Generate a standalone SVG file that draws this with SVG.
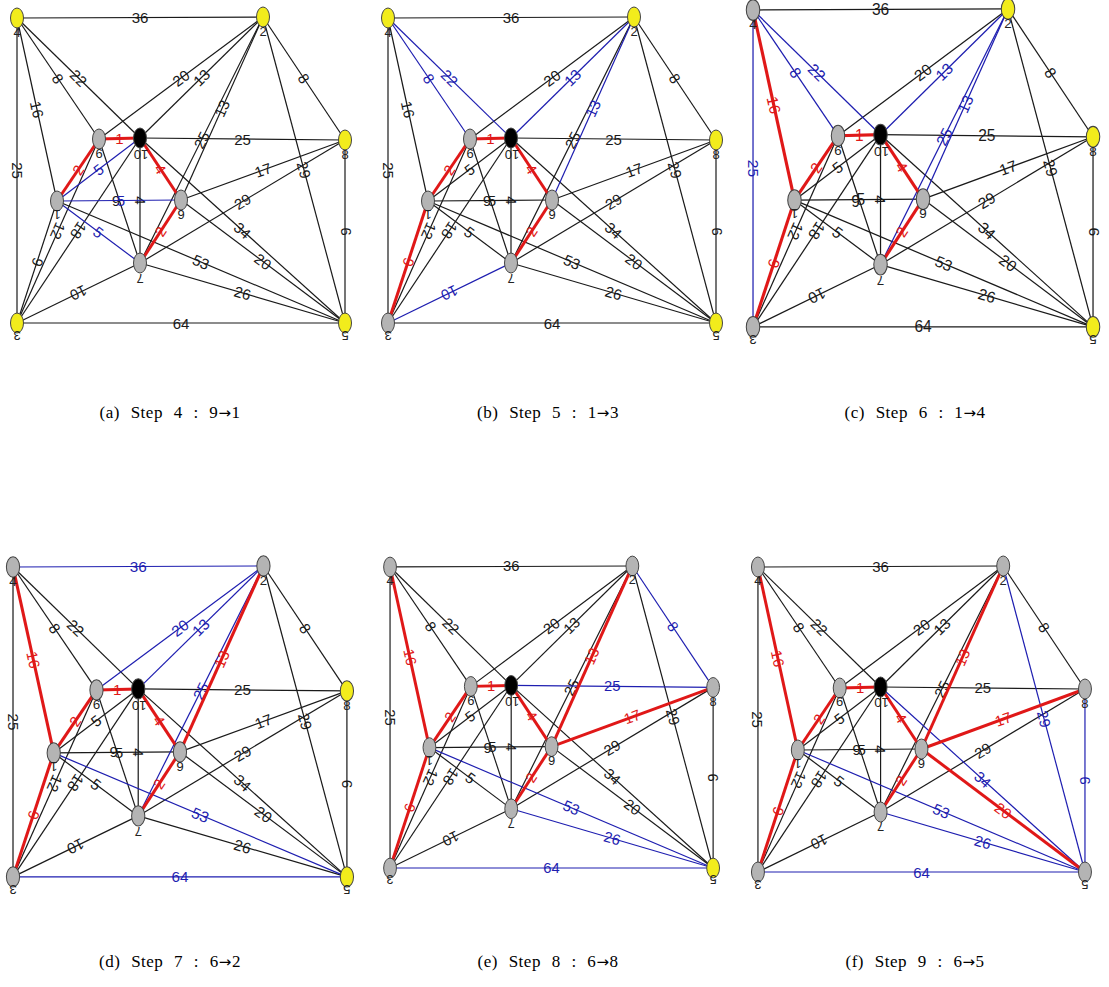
<svg xmlns="http://www.w3.org/2000/svg" xmlns:xlink="http://www.w3.org/1999/xlink" width="1109" height="987" viewBox="0 0 1109 987">
<style>
.k{stroke:#1a1a1a;fill:#1a1a1a;stroke-width:1.2}
.b{stroke:#1e1eb0;fill:#1e1eb0;stroke-width:1.2}
.r{stroke:#e01818;fill:#e01818;stroke-width:3}
.lb{stroke:none;font-family:"Liberation Sans",Arial,sans-serif;font-size:15px;text-anchor:middle;dominant-baseline:central}
.nd ellipse{stroke:#444;stroke-width:1}
.y{fill:#f2ec1c}.g{fill:#b4b4b4}.bk{fill:#000}
.nl{font-family:"Liberation Sans",Arial,sans-serif;font-size:13px;fill:#222;text-anchor:middle;dominant-baseline:central}
.cap{font-family:"Liberation Serif","DejaVu Serif",serif;font-size:17px;fill:#000;text-anchor:middle;letter-spacing:0.5px;word-spacing:6px}
.ar{font-family:"DejaVu Sans",sans-serif;font-size:15px}
</style>
<defs>
<g id="e1"><line x1="17" y1="18" x2="263" y2="17"/><text class="lb" x="140" y="17.5">36</text></g>
<g id="e2"><line x1="17" y1="18" x2="17" y2="323"/><text class="lb" x="17" y="170.5" transform="rotate(90 17 170.5)">25</text></g>
<g id="e3"><line x1="17" y1="323" x2="345" y2="323"/><text class="lb" x="181" y="323">64</text></g>
<g id="e4"><line x1="345" y1="140" x2="345" y2="323"/><text class="lb" x="345" y="231.5" transform="rotate(-90 345 231.5)">9</text></g>
<g id="e5"><line x1="263" y1="17" x2="345" y2="140"/><text class="lb" x="304" y="78.5" transform="rotate(56.3 304 78.5)">8</text></g>
<g id="e6"><line x1="17" y1="18" x2="57" y2="201"/><text class="lb" x="37" y="109.5" transform="rotate(77.7 37 109.5)">16</text></g>
<g id="e7"><line x1="17" y1="18" x2="99" y2="139"/><text class="lb" x="58" y="78.5" transform="rotate(55.9 58 78.5)">8</text></g>
<g id="e8"><line x1="17" y1="18" x2="140" y2="138"/><text class="lb" x="78.5" y="78" transform="rotate(44.3 78.5 78)">22</text></g>
<g id="e9"><line x1="263" y1="17" x2="99" y2="139"/><text class="lb" x="181" y="78" transform="rotate(-36.6 181 78)">20</text></g>
<g id="e10"><line x1="263" y1="17" x2="140" y2="138"/><text class="lb" x="201.5" y="77.5" transform="rotate(-44.5 201.5 77.5)">13</text></g>
<g id="e11"><line x1="263" y1="17" x2="181" y2="200"/><text class="lb" x="222" y="108.5" transform="rotate(-65.9 222 108.5)">13</text></g>
<g id="e12"><line x1="263" y1="17" x2="140" y2="263"/><text class="lb" x="201.5" y="140" transform="rotate(-63.4 201.5 140)">25</text></g>
<g id="e13"><line x1="263" y1="17" x2="345" y2="323"/><text class="lb" x="304" y="170" transform="rotate(75 304 170)">29</text></g>
<g id="e14"><line x1="140" y1="138" x2="345" y2="140"/><text class="lb" x="242.5" y="139">25</text></g>
<g id="e15"><line x1="140" y1="138" x2="99" y2="139"/><text class="lb" x="119.5" y="138.5">1</text></g>
<g id="e16"><line x1="140" y1="138" x2="181" y2="200"/><text class="lb" x="160.5" y="169" transform="rotate(56.5 160.5 169)">4</text></g>
<g id="e17"><line x1="140" y1="138" x2="140" y2="263"/><text class="lb" x="140" y="200.5" transform="rotate(90 140 200.5)">4</text></g>
<g id="e18"><line x1="140" y1="138" x2="345" y2="323"/><text class="lb" x="242.5" y="230.5" transform="rotate(42.1 242.5 230.5)">34</text></g>
<g id="e19"><line x1="140" y1="138" x2="17" y2="323"/><text class="lb" x="78.5" y="230.5" transform="rotate(123.6 78.5 230.5)">18</text></g>
<g id="e20"><line x1="99" y1="139" x2="17" y2="323"/><text class="lb" x="58" y="231" transform="rotate(114 58 231)">12</text></g>
<g id="e21"><line x1="57" y1="201" x2="17" y2="323"/><text class="lb" x="37" y="262" transform="rotate(-71.8 37 262)">6</text></g>
<g id="e22"><line x1="57" y1="201" x2="99" y2="139"/><text class="lb" x="78" y="170" transform="rotate(-55.9 78 170)">2</text></g>
<g id="e23"><line x1="57" y1="201" x2="140" y2="138"/><text class="lb" x="98.5" y="169.5" transform="rotate(-37.2 98.5 169.5)">5</text></g>
<g id="e24"><line x1="57" y1="201" x2="181" y2="200"/><text class="lb" x="121" y="200.5">5</text></g>
<g id="e25"><line x1="57" y1="201" x2="140" y2="263"/><text class="lb" x="98.5" y="232" transform="rotate(36.8 98.5 232)">5</text></g>
<g id="e26"><line x1="57" y1="201" x2="345" y2="323"/><text class="lb" x="201" y="262" transform="rotate(23 201 262)">53</text></g>
<g id="e27"><line x1="99" y1="139" x2="140" y2="263"/><text class="lb" x="116" y="201" transform="rotate(180 116 201)">6</text></g>
<g id="e28"><line x1="181" y1="200" x2="140" y2="263"/><text class="lb" x="160.5" y="231.5" transform="rotate(-56.9 160.5 231.5)">2</text></g>
<g id="e29"><line x1="181" y1="200" x2="345" y2="323"/><text class="lb" x="263" y="261.5" transform="rotate(36.9 263 261.5)">20</text></g>
<g id="e30"><line x1="181" y1="200" x2="345" y2="140"/><text class="lb" x="263" y="170" transform="rotate(-20.1 263 170)">17</text></g>
<g id="e31"><line x1="140" y1="263" x2="345" y2="140"/><text class="lb" x="242.5" y="201.5" transform="rotate(-31 242.5 201.5)">29</text></g>
<g id="e32"><line x1="140" y1="263" x2="345" y2="323"/><text class="lb" x="242.5" y="293" transform="rotate(16.3 242.5 293)">26</text></g>
<g id="e33"><line x1="140" y1="263" x2="17" y2="323"/><text class="lb" x="78.5" y="293" transform="rotate(154 78.5 293)">10</text></g>
</defs>
<rect x="0" y="0" width="1109" height="987" fill="#fff"/>

<g id="panel-a">
<g id="a-edges">
<use href="#e1" class="k"/><use href="#e2" class="k"/><use href="#e3" class="k"/><use href="#e4" class="k"/><use href="#e5" class="k"/><use href="#e6" class="k"/><use href="#e7" class="k"/><use href="#e8" class="k"/><use href="#e9" class="k"/><use href="#e10" class="k"/><use href="#e11" class="k"/><use href="#e12" class="k"/><use href="#e13" class="k"/><use href="#e14" class="k"/><use href="#e17" class="k"/><use href="#e18" class="k"/><use href="#e19" class="k"/><use href="#e20" class="k"/><use href="#e21" class="k"/><use href="#e26" class="k"/><use href="#e27" class="k"/><use href="#e29" class="k"/><use href="#e30" class="k"/><use href="#e31" class="k"/><use href="#e32" class="k"/><use href="#e33" class="k"/>
<use href="#e23" class="b"/><use href="#e24" class="b"/><use href="#e25" class="b"/>
<use href="#e15" class="r"/><use href="#e22" class="r"/><use href="#e16" class="r"/><use href="#e28" class="r"/>
</g>
<g id="a-n4" class="nd"><ellipse cx="17" cy="18" rx="6.5" ry="10" class="y"/><text class="nl" x="17" y="32">4</text></g>
<g id="a-n2" class="nd"><ellipse cx="263" cy="17" rx="6.5" ry="10" class="y"/><text class="nl" x="263" y="31">2</text></g>
<g id="a-n8" class="nd"><ellipse cx="345" cy="140" rx="6.5" ry="10" class="y"/><text class="nl" x="345" y="154">8</text></g>
<g id="a-n5" class="nd"><ellipse cx="345" cy="323" rx="6.5" ry="10" class="y"/><text class="nl" x="345" y="335" transform="rotate(180 345 335)">5</text></g>
<g id="a-n3" class="nd"><ellipse cx="17" cy="323" rx="6.5" ry="10" class="y"/><text class="nl" x="17" y="335" transform="rotate(180 17 335)">3</text></g>
<g id="a-n9" class="nd"><ellipse cx="99" cy="139" rx="6.5" ry="10" class="g"/><text class="nl" x="99" y="153" transform="rotate(180 99 153)">9</text></g>
<g id="a-n10" class="nd"><ellipse cx="140" cy="138" rx="6.5" ry="10" class="bk"/><text class="nl" x="141" y="154" transform="rotate(180 141 154)">10</text></g>
<g id="a-n1" class="nd"><ellipse cx="57" cy="201" rx="6.5" ry="10" class="g"/><text class="nl" x="57" y="214" transform="rotate(180 57 214)">1</text></g>
<g id="a-n6" class="nd"><ellipse cx="181" cy="200" rx="6.5" ry="10" class="g"/><text class="nl" x="181" y="214" transform="rotate(180 181 214)">6</text></g>
<g id="a-n7" class="nd"><ellipse cx="140" cy="263" rx="6.5" ry="10" class="g"/><text class="nl" x="140" y="278" transform="rotate(180 140 278)">7</text></g>
</g>

<g id="panel-b" transform="translate(371 0)">
<g id="b-edges">
<use href="#e1" class="k"/><use href="#e2" class="k"/><use href="#e3" class="k"/><use href="#e4" class="k"/><use href="#e5" class="k"/><use href="#e6" class="k"/><use href="#e9" class="k"/><use href="#e12" class="k"/><use href="#e13" class="k"/><use href="#e14" class="k"/><use href="#e17" class="k"/><use href="#e18" class="k"/><use href="#e19" class="k"/><use href="#e20" class="k"/><use href="#e23" class="k"/><use href="#e24" class="k"/><use href="#e25" class="k"/><use href="#e26" class="k"/><use href="#e27" class="k"/><use href="#e29" class="k"/><use href="#e30" class="k"/><use href="#e31" class="k"/><use href="#e32" class="k"/>
<use href="#e7" class="b"/><use href="#e8" class="b"/><use href="#e10" class="b"/><use href="#e11" class="b"/><use href="#e33" class="b"/>
<use href="#e15" class="r"/><use href="#e22" class="r"/><use href="#e16" class="r"/><use href="#e28" class="r"/><use href="#e21" class="r"/>
</g>
<g id="b-n4" class="nd"><ellipse cx="17" cy="18" rx="6.5" ry="10" class="y"/><text class="nl" x="17" y="32">4</text></g>
<g id="b-n2" class="nd"><ellipse cx="263" cy="17" rx="6.5" ry="10" class="y"/><text class="nl" x="263" y="31">2</text></g>
<g id="b-n8" class="nd"><ellipse cx="345" cy="140" rx="6.5" ry="10" class="y"/><text class="nl" x="345" y="154">8</text></g>
<g id="b-n5" class="nd"><ellipse cx="345" cy="323" rx="6.5" ry="10" class="y"/><text class="nl" x="345" y="335" transform="rotate(180 345 335)">5</text></g>
<g id="b-n3" class="nd"><ellipse cx="17" cy="323" rx="6.5" ry="10" class="g"/><text class="nl" x="17" y="335" transform="rotate(180 17 335)">3</text></g>
<g id="b-n9" class="nd"><ellipse cx="99" cy="139" rx="6.5" ry="10" class="g"/><text class="nl" x="99" y="153" transform="rotate(180 99 153)">9</text></g>
<g id="b-n10" class="nd"><ellipse cx="140" cy="138" rx="6.5" ry="10" class="bk"/><text class="nl" x="141" y="154" transform="rotate(180 141 154)">10</text></g>
<g id="b-n1" class="nd"><ellipse cx="57" cy="201" rx="6.5" ry="10" class="g"/><text class="nl" x="57" y="214" transform="rotate(180 57 214)">1</text></g>
<g id="b-n6" class="nd"><ellipse cx="181" cy="200" rx="6.5" ry="10" class="g"/><text class="nl" x="181" y="214" transform="rotate(180 181 214)">6</text></g>
<g id="b-n7" class="nd"><ellipse cx="140" cy="263" rx="6.5" ry="10" class="g"/><text class="nl" x="140" y="278" transform="rotate(180 140 278)">7</text></g>
</g>

<g id="panel-c" transform="matrix(1.0366 0 0 1.039 735.4 -8.7)">
<g id="c-edges">
<use href="#e1" class="k"/><use href="#e3" class="k"/><use href="#e4" class="k"/><use href="#e5" class="k"/><use href="#e9" class="k"/><use href="#e13" class="k"/><use href="#e14" class="k"/><use href="#e17" class="k"/><use href="#e18" class="k"/><use href="#e19" class="k"/><use href="#e20" class="k"/><use href="#e23" class="k"/><use href="#e24" class="k"/><use href="#e25" class="k"/><use href="#e26" class="k"/><use href="#e27" class="k"/><use href="#e29" class="k"/><use href="#e30" class="k"/><use href="#e31" class="k"/><use href="#e32" class="k"/><use href="#e33" class="k"/>
<use href="#e2" class="b"/><use href="#e7" class="b"/><use href="#e8" class="b"/><use href="#e10" class="b"/><use href="#e11" class="b"/><use href="#e12" class="b"/>
<use href="#e15" class="r"/><use href="#e22" class="r"/><use href="#e16" class="r"/><use href="#e28" class="r"/><use href="#e21" class="r"/><use href="#e6" class="r"/>
</g>
<g id="c-n4" class="nd"><ellipse cx="17" cy="18" rx="6.5" ry="10" class="g"/><text class="nl" x="17" y="32">4</text></g>
<g id="c-n2" class="nd"><ellipse cx="263" cy="17" rx="6.5" ry="10" class="y"/><text class="nl" x="263" y="31">2</text></g>
<g id="c-n8" class="nd"><ellipse cx="345" cy="140" rx="6.5" ry="10" class="y"/><text class="nl" x="345" y="154">8</text></g>
<g id="c-n5" class="nd"><ellipse cx="345" cy="323" rx="6.5" ry="10" class="y"/><text class="nl" x="345" y="335" transform="rotate(180 345 335)">5</text></g>
<g id="c-n3" class="nd"><ellipse cx="17" cy="323" rx="6.5" ry="10" class="g"/><text class="nl" x="17" y="335" transform="rotate(180 17 335)">3</text></g>
<g id="c-n9" class="nd"><ellipse cx="99" cy="139" rx="6.5" ry="10" class="g"/><text class="nl" x="99" y="153" transform="rotate(180 99 153)">9</text></g>
<g id="c-n10" class="nd"><ellipse cx="140" cy="138" rx="6.5" ry="10" class="bk"/><text class="nl" x="141" y="154" transform="rotate(180 141 154)">10</text></g>
<g id="c-n1" class="nd"><ellipse cx="57" cy="201" rx="6.5" ry="10" class="g"/><text class="nl" x="57" y="214" transform="rotate(180 57 214)">1</text></g>
<g id="c-n6" class="nd"><ellipse cx="181" cy="200" rx="6.5" ry="10" class="g"/><text class="nl" x="181" y="214" transform="rotate(180 181 214)">6</text></g>
<g id="c-n7" class="nd"><ellipse cx="140" cy="263" rx="6.5" ry="10" class="g"/><text class="nl" x="140" y="278" transform="rotate(180 140 278)">7</text></g>
</g>

<g id="panel-d" transform="matrix(1.018 0 0 1.016 -4.3 548.7)">
<g id="d-edges">
<use href="#e2" class="k"/><use href="#e4" class="k"/><use href="#e5" class="k"/><use href="#e7" class="k"/><use href="#e8" class="k"/><use href="#e13" class="k"/><use href="#e14" class="k"/><use href="#e17" class="k"/><use href="#e18" class="k"/><use href="#e19" class="k"/><use href="#e20" class="k"/><use href="#e23" class="k"/><use href="#e24" class="k"/><use href="#e25" class="k"/><use href="#e27" class="k"/><use href="#e29" class="k"/><use href="#e30" class="k"/><use href="#e31" class="k"/><use href="#e32" class="k"/><use href="#e33" class="k"/>
<use href="#e1" class="b"/><use href="#e9" class="b"/><use href="#e10" class="b"/><use href="#e12" class="b"/><use href="#e26" class="b"/><use href="#e3" class="b"/>
<use href="#e15" class="r"/><use href="#e22" class="r"/><use href="#e16" class="r"/><use href="#e28" class="r"/><use href="#e21" class="r"/><use href="#e6" class="r"/><use href="#e11" class="r"/>
</g>
<g id="d-n4" class="nd"><ellipse cx="17" cy="18" rx="6.5" ry="10" class="g"/><text class="nl" x="17" y="32">4</text></g>
<g id="d-n2" class="nd"><ellipse cx="263" cy="17" rx="6.5" ry="10" class="g"/><text class="nl" x="263" y="31">2</text></g>
<g id="d-n8" class="nd"><ellipse cx="345" cy="140" rx="6.5" ry="10" class="y"/><text class="nl" x="345" y="154">8</text></g>
<g id="d-n5" class="nd"><ellipse cx="345" cy="323" rx="6.5" ry="10" class="y"/><text class="nl" x="345" y="335" transform="rotate(180 345 335)">5</text></g>
<g id="d-n3" class="nd"><ellipse cx="17" cy="323" rx="6.5" ry="10" class="g"/><text class="nl" x="17" y="335" transform="rotate(180 17 335)">3</text></g>
<g id="d-n9" class="nd"><ellipse cx="99" cy="139" rx="6.5" ry="10" class="g"/><text class="nl" x="99" y="153" transform="rotate(180 99 153)">9</text></g>
<g id="d-n10" class="nd"><ellipse cx="140" cy="138" rx="6.5" ry="10" class="bk"/><text class="nl" x="141" y="154" transform="rotate(180 141 154)">10</text></g>
<g id="d-n1" class="nd"><ellipse cx="57" cy="201" rx="6.5" ry="10" class="g"/><text class="nl" x="57" y="214" transform="rotate(180 57 214)">1</text></g>
<g id="d-n6" class="nd"><ellipse cx="181" cy="200" rx="6.5" ry="10" class="g"/><text class="nl" x="181" y="214" transform="rotate(180 181 214)">6</text></g>
<g id="d-n7" class="nd"><ellipse cx="140" cy="263" rx="6.5" ry="10" class="g"/><text class="nl" x="140" y="278" transform="rotate(180 140 278)">7</text></g>
</g>

<g id="panel-e" transform="matrix(0.985 0 0 0.987 373.3 549.2)">
<g id="e-edges">
<use href="#e1" class="k"/><use href="#e2" class="k"/><use href="#e4" class="k"/><use href="#e7" class="k"/><use href="#e8" class="k"/><use href="#e9" class="k"/><use href="#e10" class="k"/><use href="#e12" class="k"/><use href="#e13" class="k"/><use href="#e17" class="k"/><use href="#e18" class="k"/><use href="#e19" class="k"/><use href="#e20" class="k"/><use href="#e23" class="k"/><use href="#e24" class="k"/><use href="#e25" class="k"/><use href="#e27" class="k"/><use href="#e29" class="k"/><use href="#e31" class="k"/><use href="#e33" class="k"/>
<use href="#e5" class="b"/><use href="#e14" class="b"/><use href="#e26" class="b"/><use href="#e32" class="b"/><use href="#e3" class="b"/>
<use href="#e15" class="r"/><use href="#e22" class="r"/><use href="#e16" class="r"/><use href="#e28" class="r"/><use href="#e21" class="r"/><use href="#e6" class="r"/><use href="#e11" class="r"/><use href="#e30" class="r"/>
</g>
<g id="e-n4" class="nd"><ellipse cx="17" cy="18" rx="6.5" ry="10" class="g"/><text class="nl" x="17" y="32">4</text></g>
<g id="e-n2" class="nd"><ellipse cx="263" cy="17" rx="6.5" ry="10" class="g"/><text class="nl" x="263" y="31">2</text></g>
<g id="e-n8" class="nd"><ellipse cx="345" cy="140" rx="6.5" ry="10" class="g"/><text class="nl" x="345" y="154">8</text></g>
<g id="e-n5" class="nd"><ellipse cx="345" cy="323" rx="6.5" ry="10" class="y"/><text class="nl" x="345" y="335" transform="rotate(180 345 335)">5</text></g>
<g id="e-n3" class="nd"><ellipse cx="17" cy="323" rx="6.5" ry="10" class="g"/><text class="nl" x="17" y="335" transform="rotate(180 17 335)">3</text></g>
<g id="e-n9" class="nd"><ellipse cx="99" cy="139" rx="6.5" ry="10" class="g"/><text class="nl" x="99" y="153" transform="rotate(180 99 153)">9</text></g>
<g id="e-n10" class="nd"><ellipse cx="140" cy="138" rx="6.5" ry="10" class="bk"/><text class="nl" x="141" y="154" transform="rotate(180 141 154)">10</text></g>
<g id="e-n1" class="nd"><ellipse cx="57" cy="201" rx="6.5" ry="10" class="g"/><text class="nl" x="57" y="214" transform="rotate(180 57 214)">1</text></g>
<g id="e-n6" class="nd"><ellipse cx="181" cy="200" rx="6.5" ry="10" class="g"/><text class="nl" x="181" y="214" transform="rotate(180 181 214)">6</text></g>
<g id="e-n7" class="nd"><ellipse cx="140" cy="263" rx="6.5" ry="10" class="g"/><text class="nl" x="140" y="278" transform="rotate(180 140 278)">7</text></g>
</g>

<g id="panel-f" transform="matrix(0.997 0 0 1 741 549)">
<g id="f-edges">
<use href="#e1" class="k"/><use href="#e2" class="k"/><use href="#e5" class="k"/><use href="#e7" class="k"/><use href="#e8" class="k"/><use href="#e9" class="k"/><use href="#e10" class="k"/><use href="#e12" class="k"/><use href="#e14" class="k"/><use href="#e17" class="k"/><use href="#e19" class="k"/><use href="#e20" class="k"/><use href="#e23" class="k"/><use href="#e24" class="k"/><use href="#e25" class="k"/><use href="#e27" class="k"/><use href="#e31" class="k"/><use href="#e33" class="k"/>
<use href="#e13" class="b"/><use href="#e4" class="b"/><use href="#e18" class="b"/><use href="#e26" class="b"/><use href="#e32" class="b"/><use href="#e3" class="b"/>
<use href="#e15" class="r"/><use href="#e22" class="r"/><use href="#e16" class="r"/><use href="#e28" class="r"/><use href="#e21" class="r"/><use href="#e6" class="r"/><use href="#e11" class="r"/><use href="#e30" class="r"/><use href="#e29" class="r"/>
</g>
<g id="f-n4" class="nd"><ellipse cx="17" cy="18" rx="6.5" ry="10" class="g"/><text class="nl" x="17" y="32">4</text></g>
<g id="f-n2" class="nd"><ellipse cx="263" cy="17" rx="6.5" ry="10" class="g"/><text class="nl" x="263" y="31">2</text></g>
<g id="f-n8" class="nd"><ellipse cx="345" cy="140" rx="6.5" ry="10" class="g"/><text class="nl" x="345" y="154">8</text></g>
<g id="f-n5" class="nd"><ellipse cx="345" cy="323" rx="6.5" ry="10" class="g"/><text class="nl" x="345" y="335" transform="rotate(180 345 335)">5</text></g>
<g id="f-n3" class="nd"><ellipse cx="17" cy="323" rx="6.5" ry="10" class="g"/><text class="nl" x="17" y="335" transform="rotate(180 17 335)">3</text></g>
<g id="f-n9" class="nd"><ellipse cx="99" cy="139" rx="6.5" ry="10" class="g"/><text class="nl" x="99" y="153" transform="rotate(180 99 153)">9</text></g>
<g id="f-n10" class="nd"><ellipse cx="140" cy="138" rx="6.5" ry="10" class="bk"/><text class="nl" x="141" y="154" transform="rotate(180 141 154)">10</text></g>
<g id="f-n1" class="nd"><ellipse cx="57" cy="201" rx="6.5" ry="10" class="g"/><text class="nl" x="57" y="214" transform="rotate(180 57 214)">1</text></g>
<g id="f-n6" class="nd"><ellipse cx="181" cy="200" rx="6.5" ry="10" class="g"/><text class="nl" x="181" y="214" transform="rotate(180 181 214)">6</text></g>
<g id="f-n7" class="nd"><ellipse cx="140" cy="263" rx="6.5" ry="10" class="g"/><text class="nl" x="140" y="278" transform="rotate(180 140 278)">7</text></g>
</g>

<g id="captions">
<text class="cap" x="170" y="418">(a) Step 4 : 9<tspan class="ar">→</tspan>1</text>
<text class="cap" x="548" y="418">(b) Step 5 : 1<tspan class="ar">→</tspan>3</text>
<text class="cap" x="915" y="418">(c) Step 6 : 1<tspan class="ar">→</tspan>4</text>
<text class="cap" x="170" y="967">(d) Step 7 : 6<tspan class="ar">→</tspan>2</text>
<text class="cap" x="548" y="967">(e) Step 8 : 6<tspan class="ar">→</tspan>8</text>
<text class="cap" x="915" y="967">(f) Step 9 : 6<tspan class="ar">→</tspan>5</text>
</g>
</svg>
